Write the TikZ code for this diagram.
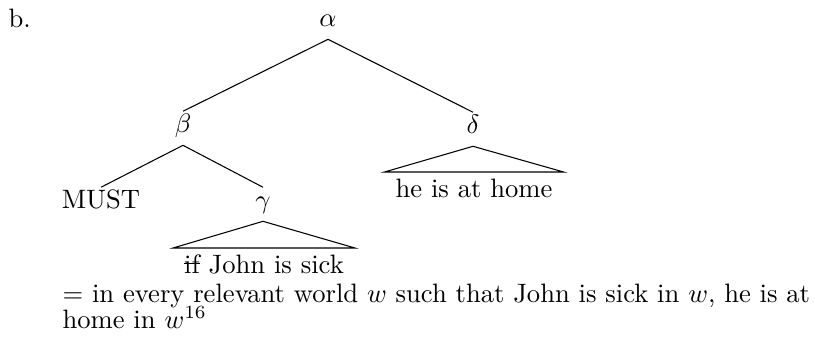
\documentclass[tikz,border=0pt]{standalone}
\begin{document}
\begin{tikzpicture}[x=0.3759pt,y=-0.3759pt,
  lbl/.style={inner sep=0pt,text height=7.6pt,text depth=4.8pt,anchor=base},
  trilbl/.style={inner sep=0pt,text height=9.2pt,text depth=2pt,anchor=base},
  txt/.style={inner sep=0pt,anchor=base west},
  edge/.style={line width=0.4pt}]
\useasboundingbox (0,0) rectangle (815,338);
\node[txt] (ex) at (8,27) {b.};
\node[lbl] (alpha) at (328,26) {$\alpha$};
\node[lbl] (beta) at (183,132) {$\beta$};
\node[lbl] (delta) at (473,133) {$\delta$};
\node[lbl] (must) at (101,208) {MUST};
\node[lbl] (gamma) at (263,208) {$\gamma$};
\node[trilbl] (ifj) at (264,273) {\rlap{\rule[3.3pt]{5.9pt}{0.4pt}}if John is sick};
\node[trilbl] (home) at (474,197) {he is at home};
\draw[edge] (alpha.south) -- (beta.north);
\draw[edge] (alpha.south) -- (delta.north);
\draw[edge] (beta.south) -- (must.north);
\draw[edge] (beta.south) -- (gamma.north);
\draw[edge] (gamma.south) -- ([xshift=-4pt]ifj.north west) -- ([xshift=4pt]ifj.north east) -- cycle;
\draw[edge] (delta.south) -- ([xshift=-4pt]home.north west) -- ([xshift=4pt]home.north east) -- cycle;
\node[txt] (line1) at (62,302) {\makebox[281pt][s]{$=$ in every relevant world $w$ such that John is sick in $w$, he is at}};
\node[txt] (line2) at (62,328) {home in $w^{16}$};
\end{tikzpicture}
\end{document}
